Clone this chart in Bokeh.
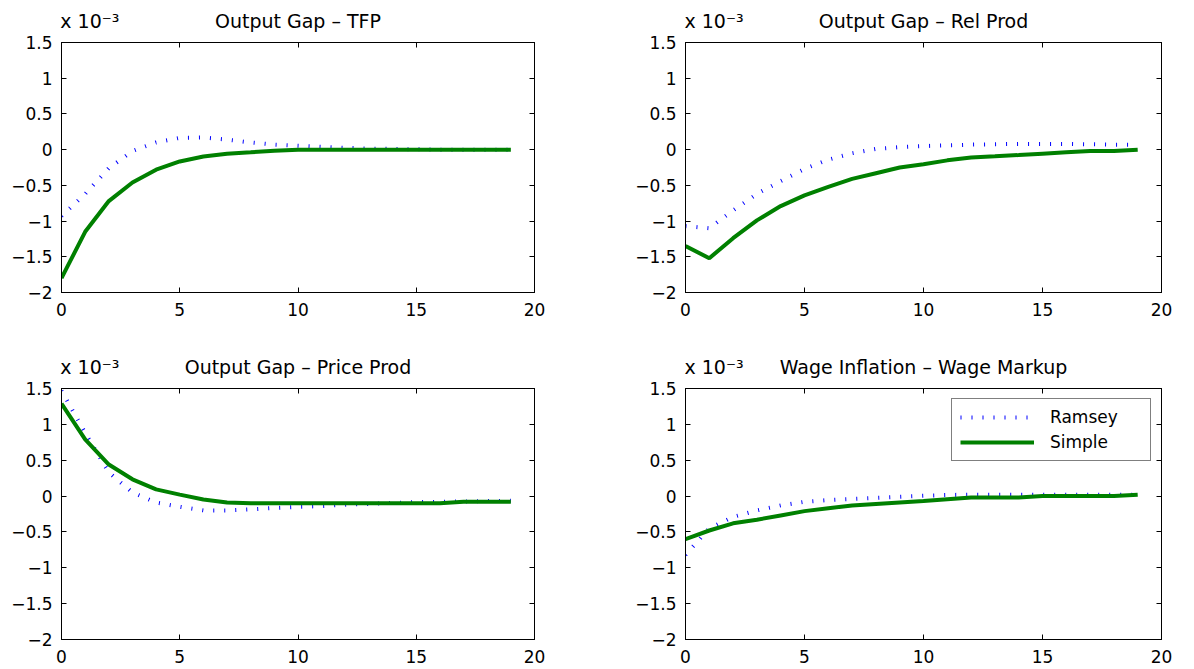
from bokeh.plotting import figure
from bokeh.layouts import column, row
from bokeh.models import Range1d, FixedTicker, LinearAxis, CustomLabelingPolicy
from bokeh.embed import file_html
from bokeh.resources import INLINE

# Impulse responses (units of 10^-3), horizon in quarters
periods = [0, 1, 2, 3, 4, 5, 6, 7, 8, 9, 10, 11, 12, 13, 14, 15, 16, 17, 18, 19]

ramsey_tfp = [-0.93, -0.62, -0.26, -0.02, 0.10, 0.165, 0.17, 0.14, 0.10, 0.07,
              0.055, 0.04, 0.025, 0.015, 0.01, 0.005, 0.0, 0.0, 0.0, 0.0]
simple_tfp = [-1.80, -1.15, -0.72, -0.46, -0.28, -0.165, -0.095, -0.056, -0.037, -0.015,
              0.0, 0.0, 0.0, 0.0, 0.0, 0.0, 0.0, 0.0, 0.0, 0.0]

ramsey_rel = [-1.07, -1.10, -0.85, -0.62, -0.44, -0.27, -0.14, -0.05, 0.01, 0.035,
              0.05, 0.06, 0.07, 0.075, 0.08, 0.08, 0.08, 0.075, 0.07, 0.07]
simple_rel = [-1.35, -1.52, -1.24, -0.99, -0.79, -0.64, -0.52, -0.41, -0.33, -0.25,
              -0.205, -0.15, -0.11, -0.093, -0.075, -0.056, -0.037, -0.02, -0.02, 0.0]

ramsey_price = [1.47, 0.88, 0.33, 0.05, -0.09, -0.15, -0.20, -0.20, -0.185, -0.165,
                -0.15, -0.14, -0.12, -0.11, -0.095, -0.085, -0.08, -0.075, -0.07, -0.065]
simple_price = [1.29, 0.79, 0.44, 0.234, 0.093, 0.02, -0.047, -0.09, -0.10, -0.10,
                -0.10, -0.10, -0.10, -0.10, -0.10, -0.10, -0.10, -0.08, -0.08, -0.08]

ramsey_wage = [-0.82, -0.45, -0.29, -0.20, -0.13, -0.08, -0.055, -0.04, -0.025, -0.01,
               0.005, 0.015, 0.02, 0.02, 0.02, 0.02, 0.02, 0.02, 0.02, 0.02]
simple_wage = [-0.60, -0.48, -0.38, -0.33, -0.27, -0.21, -0.17, -0.13, -0.11, -0.09,
               -0.07, -0.045, -0.02, -0.02, -0.02, 0.0, 0.0, 0.0, 0.0, 0.02]

titles = ["Output Gap – TFP", "Output Gap – Rel Prod",
          "Output Gap – Price Prod", "Wage Inflation – Wage Markup"]

x_ticks = [0, 5, 10, 15, 20]
y_ticks = [-2, -1.5, -1, -0.5, 0, 0.5, 1, 1.5]
y_tick_labels = ["−2", "−1.5", "−1", "−0.5", "0", "0.5", "1", "1.5"]
scale_text = "x 10⁻³"

FONT = "DejaVu Sans"
BLUE = "#0000FF"
GREEN = "#008000"
MULT_POS = 1.2     # x anchor of the multiplier text
TITLE_POS = 10     # x anchor of the panel title (centre of the box)

# box-style tick marks on the top/right edges carry no labels
no_labels = CustomLabelingPolicy(
    code="for (const i of [...indices]) { indices.set(i, false) }\nreturn indices")


def style_axis(ax, ticks, show_labels, standoff):
    ax.ticker = FixedTicker(ticks=ticks)
    ax.axis_line_color = "black"
    ax.axis_line_width = 1
    ax.major_tick_line_color = "black"
    ax.major_tick_in = 5
    ax.major_tick_out = 0
    ax.minor_tick_line_color = None
    ax.major_label_text_font = FONT
    ax.major_label_text_color = "black"
    if show_labels:
        ax.major_label_text_font_size = "17px"
        ax.major_label_standoff = standoff
    else:
        ax.major_label_text_font_size = "1px"
        ax.major_label_standoff = 0
        ax.major_label_policy = no_labels


def make_panel(title, ramsey, simple, width, height, borders, legend=False):
    left, right, top, bottom = borders
    p = figure(width=width, height=height, output_backend="svg",
               toolbar_location=None,
               x_range=Range1d(0, 20), y_range=Range1d(-2, 1.5),
               min_border_left=left, min_border_right=right,
               min_border_top=top, min_border_bottom=bottom)
    p.background_fill_color = "white"
    p.border_fill_color = "white"
    p.outline_line_color = "black"
    p.outline_line_width = 1
    p.grid.visible = False

    style_axis(p.xaxis[0], x_ticks, True, 10)
    style_axis(p.yaxis[0], y_ticks, True, 9)
    p.yaxis[0].major_label_overrides = dict(zip(y_ticks, y_tick_labels))

    top_ax = LinearAxis()
    style_axis(top_ax, x_ticks, False, 0)
    p.add_layout(top_ax, "above")
    right_ax = LinearAxis()
    style_axis(right_ax, y_ticks, False, 0)
    p.add_layout(right_ax, "right")

    # heading row: multiplier at the left corner, title centred over the box
    head_ax = LinearAxis(ticker=FixedTicker(ticks=[MULT_POS, TITLE_POS]),
                         major_label_overrides={MULT_POS: scale_text,
                                                TITLE_POS: title})
    head_ax.axis_line_color = None
    head_ax.major_tick_line_color = None
    head_ax.minor_tick_line_color = None
    head_ax.major_tick_in = 0
    head_ax.major_tick_out = 0
    head_ax.major_label_standoff = 7
    head_ax.major_label_text_font = FONT
    head_ax.major_label_text_font_size = "19px"
    head_ax.major_label_text_color = "black"
    p.add_layout(head_ax, "above")

    kw_r = dict(line_color=BLUE, line_width=4, line_dash="1 10")
    kw_s = dict(line_color=GREEN, line_width=4)
    if legend:
        p.line(periods, ramsey, legend_label="Ramsey", **kw_r)
        p.line(periods, simple, legend_label="Simple", **kw_s)
        lg = p.legend[0]
        lg.location = "top_right"
        lg.margin = 10
        lg.padding = 8
        lg.spacing = 5
        lg.glyph_width = 74
        lg.glyph_height = 18
        lg.label_height = 18
        lg.label_width = 92
        lg.label_standoff = 16
        lg.label_text_font = FONT
        lg.label_text_font_size = "17px"
        lg.label_text_color = "black"
        lg.border_line_color = "black"
        lg.border_line_width = 1
        lg.background_fill_color = "white"
        lg.background_fill_alpha = 1.0
    else:
        p.line(periods, ramsey, **kw_r)
        p.line(periods, simple, **kw_s)
    return p


p1 = make_panel(titles[0], ramsey_tfp, simple_tfp, 610, 334, (61, 76, 42, 42))
p2 = make_panel(titles[1], ramsey_rel, simple_rel, 584, 334, (75, 33, 42, 42))
p3 = make_panel(titles[2], ramsey_price, simple_price, 610, 335, (61, 76, 54, 30))
p4 = make_panel(titles[3], ramsey_wage, simple_wage, 584, 335, (75, 33, 54, 30),
                legend=True)

layout = column(row(p1, p2), row(p3, p4))

with open("out.html", "w") as f:
    f.write(file_html(layout, INLINE))
